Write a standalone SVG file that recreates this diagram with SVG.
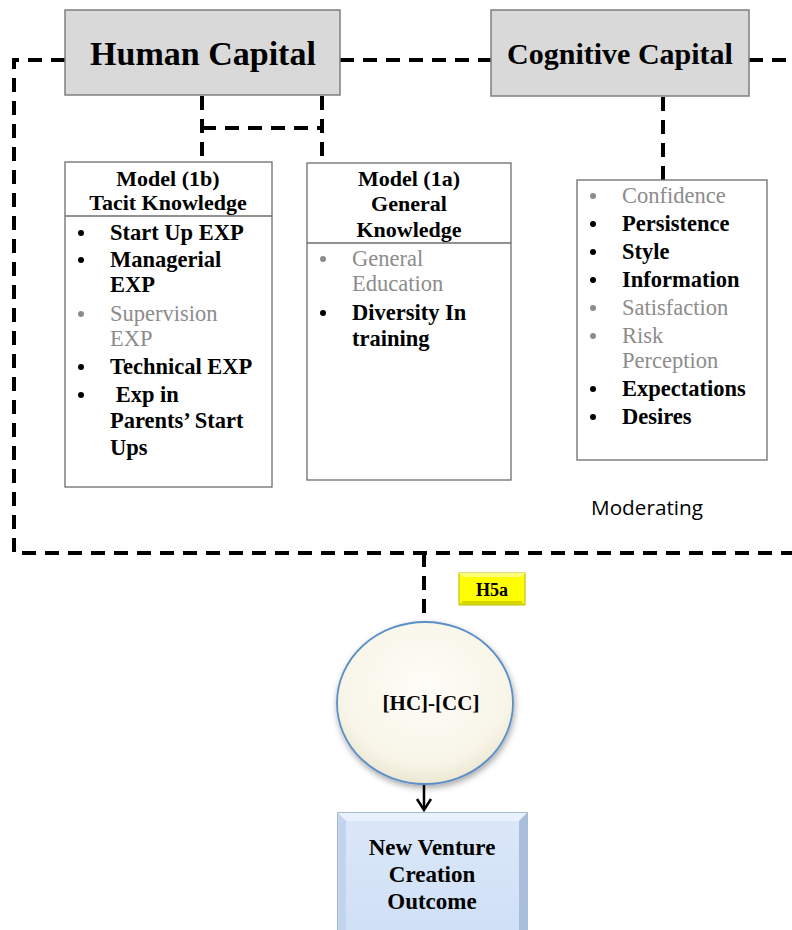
<svg xmlns="http://www.w3.org/2000/svg" width="792" height="930" viewBox="0 0 792 930">
  <style>
    .dash { fill: none; stroke: #000; stroke-width: 4; stroke-dasharray: 14 9; }
    .cap { fill: #d9d9d9; stroke: #7f7f7f; stroke-width: 1.5; }
    .capt { font-family: "Liberation Serif", "Times New Roman", serif; font-weight: bold; fill: #000; text-anchor: middle; }
    .panel { fill: #fff; stroke: #6d6d6d; stroke-width: 1.3; }
    .hd { font-family: "Liberation Serif", serif; font-weight: bold; font-size: 22px; text-anchor: middle; fill: #000; }
    .b { font-family: "Liberation Serif", serif; font-weight: bold; font-size: 22.5px; fill: #000; }
    .g { font-family: "Liberation Serif", serif; font-size: 22.5px; fill: #8c8c8c; }
    .bd { fill: #000; }
    .gd { fill: #8c8c8c; }
    .ctr { font-family: "Liberation Serif", serif; font-weight: bold; text-anchor: middle; fill: #000; }
  </style>
  <defs>
    <radialGradient id="ellFill" cx="0.5" cy="0.4" r="0.6">
      <stop offset="0" stop-color="#fefdf8"/>
      <stop offset="0.8" stop-color="#f8f5e8"/>
      <stop offset="1" stop-color="#ece7d2"/>
    </radialGradient>
    <linearGradient id="boxFill" x1="0" y1="0" x2="0" y2="1">
      <stop offset="0" stop-color="#dbe8f9"/>
      <stop offset="1" stop-color="#cfdff5"/>
    </linearGradient>
    <filter id="shadow" x="-20%" y="-20%" width="140%" height="150%">
      <feDropShadow dx="1" dy="3" stdDeviation="3" flood-color="#000" flood-opacity="0.35"/>
    </filter>
  </defs>

  <!-- connectors -->
  <g id="connectors">
    <!-- outer moderating frame -->
    <path class="dash" d="M65,60 H14 V553 H792"/>
    <path class="dash" d="M340,60 H491"/>
    <path class="dash" d="M749,60 H792"/>
    <!-- human capital branches -->
    <path class="dash" d="M202,96 V162"/>
    <path class="dash" d="M322,96 V163"/>
    <path class="dash" d="M202,128 H322"/>
    <!-- cognitive capital branch -->
    <path class="dash" d="M663,97 V180"/>
    <!-- frame to interaction -->
    <path class="dash" d="M424,553 V622"/>
    <!-- interaction to outcome -->
    <line x1="424" y1="784" x2="424" y2="810" stroke="#000" stroke-width="2.5"/>
    <path d="M417,799 L424,810 L431,799" fill="none" stroke="#000" stroke-width="2.5" stroke-linejoin="miter"/>
  </g>

  <g id="human-capital">
    <rect class="cap" x="65" y="10" width="275" height="85"/>
    <text class="capt" x="203" y="65" font-size="34">Human Capital</text>
  </g>

  <g id="cognitive-capital">
    <rect class="cap" x="491" y="10" width="258" height="86"/>
    <text class="capt" x="620" y="64" font-size="30">Cognitive Capital</text>
  </g>

  <g id="tacit-knowledge">
    <rect class="panel" x="65" y="162" width="207" height="325"/>
    <line x1="65" y1="216" x2="272" y2="216" stroke="#6d6d6d" stroke-width="1.3"/>
    <text class="hd" x="168" y="186">Model (1b)</text>
    <text class="hd" x="168" y="210">Tacit Knowledge</text>
    <circle class="bd" cx="81" cy="233" r="3"/>
    <text class="b" x="110" y="240">Start Up EXP</text>
    <circle class="bd" cx="81" cy="260" r="3"/>
    <text class="b" x="110" y="267">Managerial</text>
    <text class="b" x="110" y="292">EXP</text>
    <circle class="gd" cx="81" cy="314" r="3"/>
    <text class="g" x="110" y="321">Supervision</text>
    <text class="g" x="110" y="346">EXP</text>
    <circle class="bd" cx="81" cy="367" r="3"/>
    <text class="b" x="110" y="374">Technical EXP</text>
    <circle class="bd" cx="81" cy="395" r="3"/>
    <text class="b" x="110" y="402" xml:space="preserve"> Exp in</text>
    <text class="b" x="110" y="428">Parents’ Start</text>
    <text class="b" x="110" y="455">Ups</text>
  </g>

  <g id="general-knowledge">
    <rect class="panel" x="307" y="163" width="204" height="317"/>
    <line x1="307" y1="243" x2="511" y2="243" stroke="#6d6d6d" stroke-width="1.3"/>
    <text class="hd" x="409" y="186">Model (1a)</text>
    <text class="hd" x="409" y="211">General</text>
    <text class="hd" x="409" y="237">Knowledge</text>
    <circle class="gd" cx="323" cy="259" r="3"/>
    <text class="g" x="352" y="266">General</text>
    <text class="g" x="352" y="291">Education</text>
    <circle class="bd" cx="323" cy="313" r="3"/>
    <text class="b" x="352" y="320">Diversity In</text>
    <text class="b" x="352" y="346">training</text>
  </g>

  <g id="cognitive-factors">
    <rect class="panel" x="577" y="180" width="190" height="280"/>
    <circle class="gd" cx="593" cy="196" r="3"/>
    <text class="g" x="622" y="203">Confidence</text>
    <circle class="bd" cx="593" cy="224" r="3"/>
    <text class="b" x="622" y="231">Persistence</text>
    <circle class="bd" cx="593" cy="252" r="3"/>
    <text class="b" x="622" y="259">Style</text>
    <circle class="bd" cx="593" cy="280" r="3"/>
    <text class="b" x="622" y="287">Information</text>
    <circle class="gd" cx="593" cy="308" r="3"/>
    <text class="g" x="622" y="315">Satisfaction</text>
    <circle class="gd" cx="593" cy="336" r="3"/>
    <text class="g" x="622" y="343">Risk</text>
    <text class="g" x="622" y="368">Perception</text>
    <circle class="bd" cx="593" cy="389" r="3"/>
    <text class="b" x="622" y="396">Expectations</text>
    <circle class="bd" cx="593" cy="417" r="3"/>
    <text class="b" x="622" y="424">Desires</text>
  </g>

  <g id="moderating-label">
    <text x="591" y="515" font-family="Open Sans, Liberation Sans, sans-serif" font-size="20" textLength="112" lengthAdjust="spacingAndGlyphs" fill="#000">Moderating</text>
  </g>

  <g id="h5a">
    <rect x="459" y="573" width="66" height="32" fill="#ffff00" stroke="#b8b800" stroke-width="1"/>
    <path d="M459,573 L463,577 H521 L525,573 Z" fill="#ffff7a"/>
    <path d="M459,605 L463,601 H521 L525,605 Z" fill="#d4d400"/>
    <text class="ctr" x="492" y="596" font-size="18">H5a</text>
  </g>

  <g id="interaction">
    <ellipse cx="425" cy="703" rx="88" ry="81" fill="url(#ellFill)" stroke="#5b8fc7" stroke-width="1.8" filter="url(#shadow)"/>
    <text class="ctr" x="431" y="710" font-size="21">[HC]-[CC]</text>
  </g>

  <g id="outcome">
    <rect x="338" y="813" width="189" height="125" fill="url(#boxFill)" stroke="#6f8fb8" stroke-width="1.2"/>
    <path d="M338,813 L346,821 H519 L527,813 Z" fill="#e9f1fc"/>
    <path d="M338,813 L346,821 V938 H338 Z" fill="#c3d5ee"/>
    <path d="M527,813 L519,821 V938 H527 Z" fill="#a9bedc"/>
    <text class="ctr" x="432" y="855" font-size="23">New Venture</text>
    <text class="ctr" x="432" y="882" font-size="23">Creation</text>
    <text class="ctr" x="432" y="909" font-size="23">Outcome</text>
  </g>
</svg>
